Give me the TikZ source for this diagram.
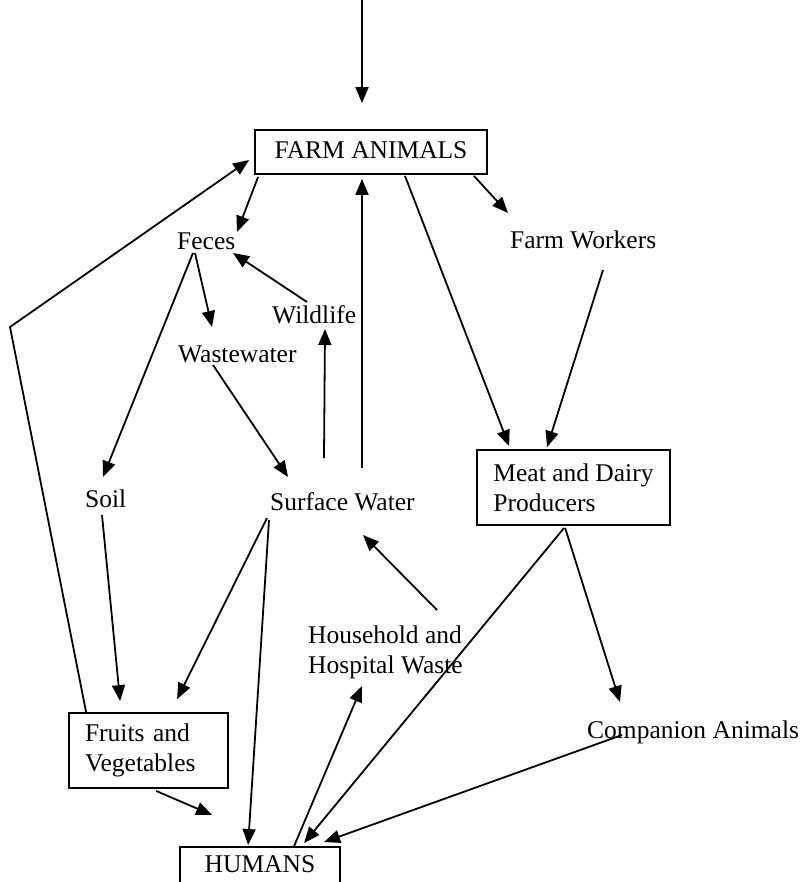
\documentclass[tikz,border=0pt]{standalone}
\usepackage{fontspec}
\setmainfont{Liberation Serif}
\usetikzlibrary{arrows.meta}
\begin{document}
\begin{tikzpicture}[x=1pt,y=-1pt,
  every node/.style={font=\fontsize{25.5pt}{30pt}\selectfont},
  lbl/.style={inner sep=0pt, anchor=base west},
  boxnode/.style={draw, line width=1.8pt, inner sep=0pt},
  arr/.style={line width=1.8pt, -{Triangle[length=16pt,width=13pt]}},
  plain/.style={line width=1.8pt}]
\clip (0,0) rectangle (800,882);
\fill[white] (0,0) rectangle (800,882);

% boxes
\node[boxnode, minimum width=232pt, minimum height=44pt, text height=17pt, text depth=4pt] (fa) at (371,152) {FARM ANIMALS};
\node[boxnode, minimum width=193pt, minimum height=75pt, align=left] (meat) at (573.5,487.5) {Meat and Dairy\\Producers};
\node[boxnode, minimum width=159pt, minimum height=75pt, text width=127pt, align=left] (fruits) at (148.5,750.5) {Fruits and\\Vegetables};
\node[boxnode, anchor=north, minimum width=160pt, inner ysep=9pt, text height=17pt, text depth=30pt] (humans) at (260,846) {HUMANS};

% labels
\node[lbl] (feces) at (177,250) {Feces};
\node[lbl] (farmworkers) at (510,249) {Farm Workers};
\node[lbl] (wildlife) at (272,323) {Wildlife};
\node[lbl] (wastewater) at (178,362) {Wastewater};
\node[lbl] (soil) at (85,507) {Soil};
\node[lbl] (surface) at (270,510) {Surface Water};
\node[inner sep=0pt, anchor=north west, align=left] (household) at (308,625.6) {Household and\\Hospital Waste};
\node[lbl] (companion) at (587,738) {Companion Animals};

% connectors
\coordinate (src) at (362,0);
\draw[arr, shorten >=26pt] (src) -- (src |- fa.north);
\draw[arr] ([shift={(4,2)}]fa.south west) -- ([shift={(60,-18)}]feces.base west);
\coordinate (lc) at (10,327);
\draw[arr] ([shift={(18,0)}]fruits.north west) -- (lc) -- ([shift={(-5,8)}]fa.west);
\draw[arr] ([shift={(34,1)}]fa.south) -- ([shift={(33,-3)}]meat.north west);
\draw[arr] ([shift={(-14,1)}]fa.south east) -- ([shift={(-2,-36)}]farmworkers.base west);
\draw[arr] ([shift={(93,21)}]farmworkers.base west) -- ([shift={(71,-2)}]meat.north west);
\draw[arr] ([shift={(92,-42)}]surface.base west) -- ([shift={(-9,4)}]fa.south);
\draw[arr] ([shift={(54,-52)}]surface.base west) -- ([shift={(53,6)}]wildlife.base west);
\draw[arr] ([shift={(35,-21)}]wildlife.base west) -- ([shift={(56,3)}]feces.base west);
\draw[arr] ([shift={(18,3)}]feces.base west) -- ([shift={(34,-35)}]wastewater.base west);
\draw[arr] ([shift={(16,3)}]feces.base west) -- ([shift={(18,-30)}]soil.base west);
\draw[arr] ([shift={(35,3)}]wastewater.base west) -- ([shift={(18,-33)}]surface.base west);
\draw[arr] ([shift={(17,8)}]soil.base west) -- ([shift={(52,-11)}]fruits.north west);
\draw[arr] ([shift={(-3,8)}]surface.base west) -- ([shift={(109,-13)}]fruits.north west);
\draw[arr] ([shift={(-1,10)}]surface.base west) -- ([shift={(69,-1)}]humans.north west);
\draw[arr] ([shift={(88,2)}]fruits.south west) -- ([shift={(33,-31)}]humans.north west);
\draw[arr] ([shift={(115,0)}]humans.north west) -- ([shift={(54,60.4)}]household.north west);
\draw[arr] ([shift={(129,-15.6)}]household.north west) -- ([shift={(93,25)}]surface.base west);
\draw[arr] ([shift={(88,2)}]meat.south west) -- ([shift={(125,-3)}]humans.north west);
\draw[arr] ([shift={(89,2)}]meat.south west) -- ([shift={(33,-36)}]companion.base west);
\draw[arr] ([shift={(35,-3)}]companion.base west) -- ([shift={(145,-4)}]humans.north west);
\end{tikzpicture}
\end{document}
